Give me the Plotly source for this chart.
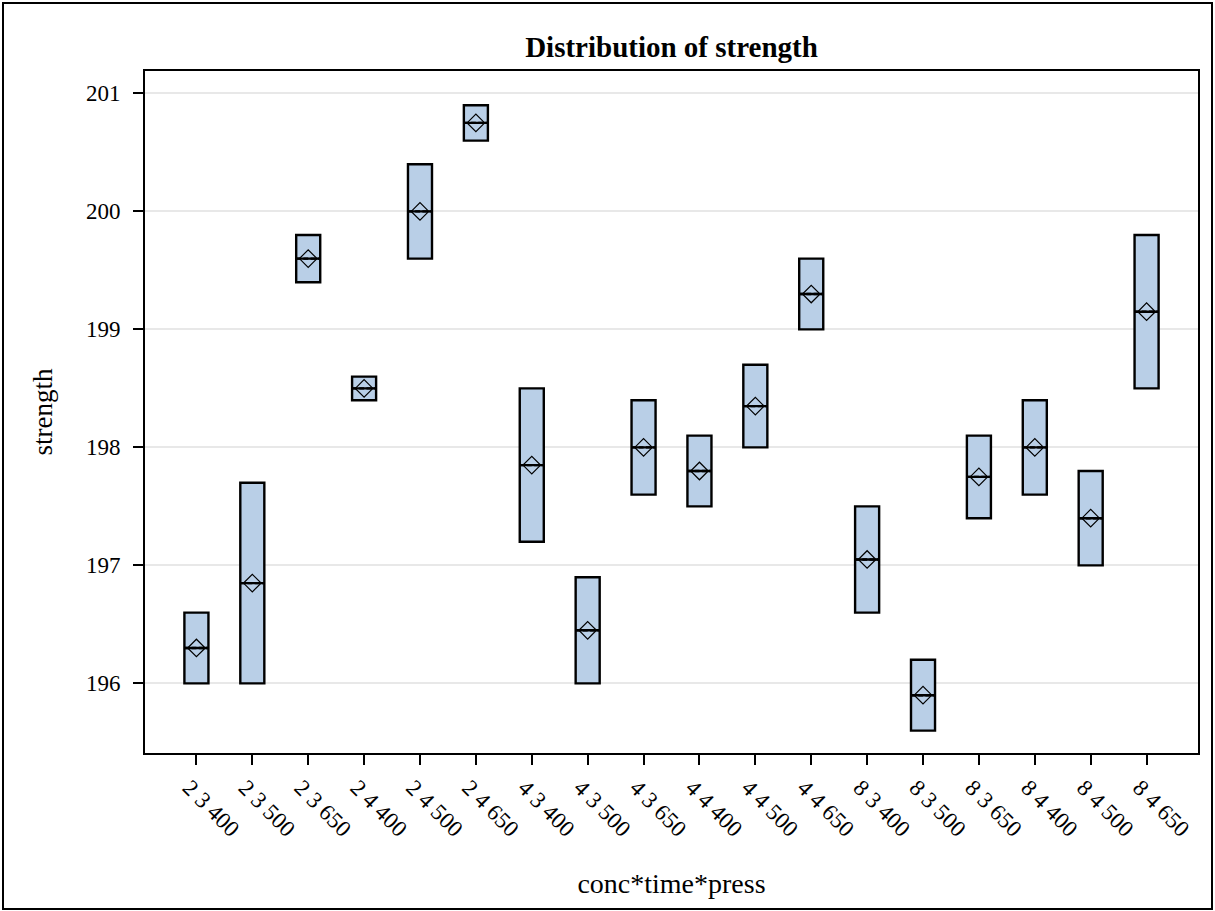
import plotly.graph_objects as go

# Factor levels for each treatment group
conc = ["2", "2", "2", "2", "2", "2", "4", "4", "4", "4", "4", "4", "8", "8", "8", "8", "8", "8"]
time = ["3", "3", "3", "4", "4", "4", "3", "3", "3", "4", "4", "4", "3", "3", "3", "4", "4", "4"]
press = ["400", "500", "650", "400", "500", "650", "400", "500", "650",
         "400", "500", "650", "400", "500", "650", "400", "500", "650"]

# Two strength observations per group (lower, higher)
strength_low = [196.0, 196.0, 199.4, 198.4, 199.6, 200.6, 197.2, 196.0, 197.6,
                197.5, 198.0, 199.0, 196.6, 195.6, 197.4, 197.6, 197.0, 198.5]
strength_high = [196.6, 197.7, 199.8, 198.6, 200.4, 200.9, 198.5, 196.9, 198.4,
                 198.1, 198.7, 199.6, 197.5, 196.2, 198.1, 198.4, 197.8, 199.8]

groups = [f"{c} {t} {p}" for c, t, p in zip(conc, time, press)]
strength_mean = [(a + b) / 2 for a, b in zip(strength_low, strength_high)]

FONT = "Liberation Serif"

fig = go.Figure()

# With two observations per group the box spans min..max and the median equals the mean
fig.add_trace(go.Box(
    x=groups,
    q1=strength_low,
    q3=strength_high,
    median=strength_mean,
    lowerfence=strength_low,
    upperfence=strength_high,
    mean=strength_mean,
    boxpoints=False,
    whiskerwidth=0,
    width=0.43,
    fillcolor="#B9CFE7",
    line=dict(color="black", width=2.4),
    hoverinfo="skip",
    showlegend=False,
))

# Mean markers
fig.add_trace(go.Scatter(
    x=groups,
    y=strength_mean,
    mode="markers",
    marker=dict(symbol="diamond-open", size=13.5, color="black",
                line=dict(color="black", width=1.2)),
    showlegend=False,
    hoverinfo="skip",
))

W, H = 1215, 911
ML, MR, MT, MB = 145, 17, 71, 158
pw, ph = W - ML - MR, H - MT - MB

# outer frame around the whole graphic, in paper units
fx0 = (3 - ML) / pw
fx1 = (1212 - ML) / pw
fy1 = 1 + (MT - 3) / ph
fy0 = -(MB - 2) / ph

fig.update_layout(
    width=W, height=H,
    margin=dict(l=ML, r=MR, t=MT, b=MB, autoexpand=False),
    paper_bgcolor="white",
    plot_bgcolor="white",
    font=dict(family=FONT, color="black", size=23),
    title=dict(text="<b>Distribution of strength</b>", x=0.5, xref="paper",
               xanchor="center", y=1 - 47 / H, yanchor="middle",
               font=dict(family=FONT, size=29, color="black")),
    xaxis=dict(
        type="category",
        categoryorder="array", categoryarray=groups,
        range=[-0.92, 17.92],
        showline=True, linecolor="black", linewidth=2, mirror=True,
        ticks="outside", ticklen=10, tickwidth=2, tickcolor="black",
        tickangle=45,
        ticklabelshift=-7,
        tickfont=dict(family=FONT, size=23),
        showgrid=False, zeroline=False,
        title=dict(text="conc*time*press", font=dict(family=FONT, size=28), standoff=33),
    ),
    yaxis=dict(
        range=[195.41, 201.19],
        tickmode="linear", tick0=196, dtick=1,
        showline=True, linecolor="black", linewidth=2, mirror=True,
        ticks="outside", ticklen=10, tickwidth=2, tickcolor="black",
        ticklabelstandoff=8,
        tickfont=dict(family=FONT, size=23),
        showgrid=True, gridcolor="#E8E8E8", gridwidth=2,
        zeroline=False,
        title=dict(text="strength", font=dict(family=FONT, size=27), standoff=25),
    ),
    shapes=[dict(type="rect", xref="paper", yref="paper",
                 x0=fx0, x1=fx1, y0=fy0, y1=fy1,
                 line=dict(color="black", width=2), fillcolor="rgba(0,0,0,0)",
                 layer="above")],
)

fig.write_html("out.html")
